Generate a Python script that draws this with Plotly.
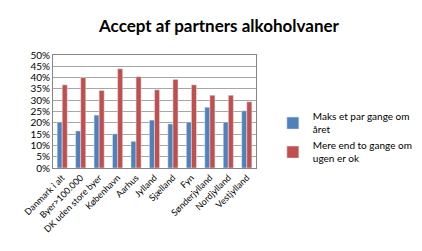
import plotly.graph_objects as go

categories = ["Danmark i alt", "Byer>100.000", "DK uden store byer", "København", "Aarhus",
              "Jylland", "Sjælland", "Fyn", "Sønderjylland", "Nordjylland", "Vestjylland"]
maks_aaret = [20.3, 16.4, 23.4, 15.1, 11.8, 21.2, 19.5, 20.3, 26.9, 20.3, 25.3]
mere_ugen = [36.8, 40.0, 34.3, 43.9, 40.4, 34.6, 39.2, 36.8, 32.2, 32.2, 29.3]
series_names = ["Maks et par gange om<br>året", "Mere end to gange om<br>ugen er ok"]
yticks = list(range(0, 51, 5))
yticklabels = [f"{v}%" for v in yticks]

fig = go.Figure()
fig.add_trace(go.Bar(x=categories, y=maks_aaret, name=series_names[0], marker_color="#4F81BD"))
fig.add_trace(go.Bar(x=categories, y=mere_ugen, name=series_names[1], marker_color="#C0504D"))

font = "Lato, Open Sans, sans-serif"
fig.update_layout(
    width=422, height=251,
    margin=dict(l=45, r=147, t=47, b=91),
    paper_bgcolor="white", plot_bgcolor="white",
    barmode="group", bargap=0.45, bargroupgap=0,
    title=dict(text="<b>Accept af partners alkoholvaner</b>", x=0.5, xanchor="center",
               y=0.93, yanchor="middle", font=dict(family=font, size=17, color="black")),
    font=dict(family=font, size=10, color="black"),
    legend=dict(x=1.083, xanchor="left", y=0.57, yanchor="top", font=dict(size=10),
                tracegroupgap=6, itemwidth=30, bgcolor="rgba(0,0,0,0)"),
    showlegend=True,
)
fig.update_xaxes(tickangle=-45, showline=True, linecolor="#868686", mirror=True,
                 ticks="", tickfont=dict(size=9), automargin=False)
fig.update_yaxes(range=[0, 50], tickvals=yticks, ticktext=yticklabels, showgrid=True,
                 gridcolor="#A6A6A6", showline=True, linecolor="#868686", mirror=True,
                 zeroline=False, tickfont=dict(size=10), automargin=False)

fig.write_html("out.html")
